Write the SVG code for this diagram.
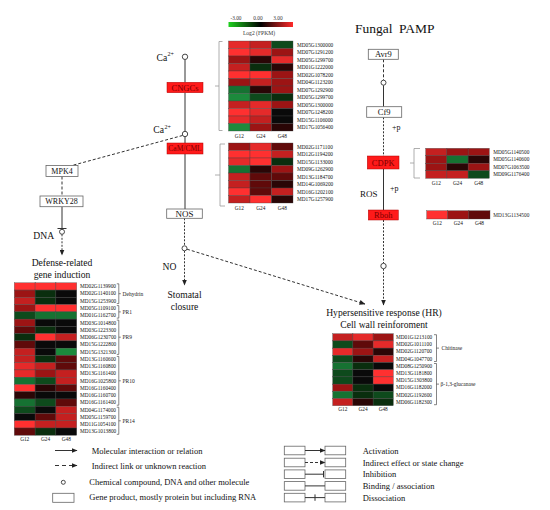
<svg xmlns="http://www.w3.org/2000/svg" width="550" height="510" viewBox="0 0 550 510">
<style>
text{font-family:"Liberation Serif","Times New Roman",serif;fill:#111}
.gl{font-size:5.3px;fill:#222}
.cl{font-size:5.3px;fill:#333;text-anchor:middle}
.grp{font-size:5.5px;fill:#222}
.lbl{font-size:9.6px}
.bt{font-size:8.5px;text-anchor:middle}
.rt{font-size:8px;text-anchor:middle;fill:#7a0000}
.lg{font-size:8.5px}
.c{stroke:#444;stroke-width:0.35}
.r5{fill:#ff3030}.r4{fill:#e52a2a}.r3{fill:#c42020}.r2{fill:#9c1414}.r1{fill:#600a0a}
.k{fill:#2a0606}.k0{fill:#0a0a0a}
.g1{fill:#0a2e0e}.g2{fill:#0e4a1c}.g3{fill:#167232}.g4{fill:#1c8a3c}
.wb{fill:#fff;stroke:#666;stroke-width:0.8}
.rb{fill:#ff1a1a;stroke:#b00000;stroke-width:0.5}
.ln{fill:none;stroke:#333;stroke-width:1}
.dl{fill:none;stroke:#333;stroke-width:1;stroke-dasharray:2,1.5}
.dd{fill:none;stroke:#333;stroke-width:1;stroke-dasharray:3,2}
.ci{fill:#fff;stroke:#333;stroke-width:0.9}
.br{fill:none;stroke:#999;stroke-width:0.8}
.bk{fill:none;stroke:#333;stroke-width:0.6}
</style>
<defs>
<marker id="arr" markerUnits="userSpaceOnUse" markerWidth="6" markerHeight="5" refX="5.5" refY="2.5" orient="auto">
<path d="M0,0 L6,2.5 L0,5 z" fill="#222"/>
</marker>
<linearGradient id="scale" x1="0" y1="0" x2="1" y2="0">
<stop offset="0" stop-color="#1fd11f"/>
<stop offset="0.5" stop-color="#000"/>
<stop offset="1" stop-color="#ff2a2a"/>
</linearGradient>
</defs>
<rect width="550" height="510" fill="#fff"/>

<!-- colour scale -->
<g id="colour-scale">
<text x="236" y="20" class="cl">-3.00</text>
<text x="258" y="20" class="cl">0.00</text>
<text x="278" y="20" class="cl">3.00</text>
<rect x="228.5" y="22" width="64.5" height="5" fill="url(#scale)"/>
<text x="259" y="34.5" class="cl" style="font-size:5.6px">Log2 (FPKM)</text>
</g>

<text x="355" y="32.8" style="font-size:13.5px;word-spacing:3px">Fungal PAMP</text>

<!-- connectors -->
<g id="connectors">
<line class="ln" x1="185" y1="59.5" x2="185" y2="82.3"/>
<line class="ln" x1="185" y1="92.7" x2="185" y2="131.3"/>
<line class="ln" x1="185" y1="136.7" x2="185" y2="143"/>
<line class="ln" x1="185" y1="154" x2="185" y2="209"/>
<line class="dd" x1="182.5" y1="135.5" x2="72" y2="165.5"/>
<line class="dd" x1="62" y1="176.5" x2="62" y2="196"/>
<line class="ln" x1="62" y1="206.7" x2="62" y2="228.5"/>
<line class="ln" x1="57.5" y1="228.5" x2="66.5" y2="228.5"/>
<line class="dl" x1="62" y1="234.3" x2="62" y2="255" marker-end="url(#arr)"/>
<line class="dl" x1="184.5" y1="218.3" x2="184.5" y2="245.8"/>
<line class="dl" x1="184.5" y1="250.8" x2="184.5" y2="285" marker-end="url(#arr)"/>
<line class="dd" x1="187" y1="249.2" x2="365" y2="304" marker-end="url(#arr)"/>
<line class="dd" x1="383.5" y1="59.3" x2="383.5" y2="80.2"/>
<line class="ln" x1="383.5" y1="85.2" x2="383.5" y2="106.7"/>
<line class="dl" x1="383.5" y1="117.3" x2="383.5" y2="156"/>
<line class="ln" x1="383.5" y1="169" x2="383.5" y2="210"/>
<line class="dl" x1="383.5" y1="220" x2="383.5" y2="263.3"/>
<line class="dl" x1="383.5" y1="268.7" x2="383.5" y2="305" marker-end="url(#arr)"/>
</g>

<!-- small molecules / labels -->
<g id="ca1">
<circle class="ci" cx="185" cy="56.8" r="2.7"/>
<text x="156.5" y="61" class="lbl">Ca</text><text x="167.5" y="56" style="font-size:6px">2+</text>
</g>
<g id="ca2">
<circle class="ci" cx="185" cy="134" r="2.7"/>
<text x="153.3" y="132.5" class="lbl">Ca</text><text x="164.5" y="128.5" style="font-size:6px">2+</text>
</g>
<g id="cngcs"><rect class="rb" x="167" y="82.3" width="36" height="10.4"/><text x="185" y="90.6" class="rt" style="font-size:8.5px">CNGCs</text></g>
<g id="cam-cml"><rect class="rb" x="167" y="143" width="36" height="11"/><text x="185" y="151.3" class="rt" style="font-size:7.5px">CaM/CML</text></g>
<g id="nos"><rect class="wb" x="166.7" y="209" width="35.6" height="9.3"/><text x="184.5" y="216.6" class="bt" style="font-size:9px">NOS</text></g>
<g id="no"><circle class="ci" cx="184.5" cy="248.3" r="2.5"/><text x="162.5" y="270" class="lbl">NO</text></g>
<g id="stomatal"><text x="184.5" y="298.3" class="lbl" text-anchor="middle">Stomatal</text><text x="184.5" y="310" class="lbl" text-anchor="middle">closure</text></g>
<g id="mpk4"><rect class="wb" x="46" y="165.5" width="32" height="11"/><text x="62" y="174" class="bt" style="font-size:8px">MPK4</text></g>
<g id="wrky28"><rect class="wb" x="40" y="196" width="43" height="10.7"/><text x="61.5" y="204.3" class="bt" style="font-size:8px">WRKY28</text></g>
<g id="dna"><circle class="ci" cx="62" cy="231.8" r="2.5"/><text x="33.3" y="239" class="lbl">DNA</text></g>
<g id="defense"><text x="62" y="265.8" class="lbl" text-anchor="middle">Defense-related</text><text x="62" y="278.3" class="lbl" text-anchor="middle">gene induction</text></g>
<g id="avr9"><rect class="wb" x="368.3" y="49.3" width="30" height="10"/><text x="383.3" y="57.2" class="bt">Avr9</text></g>
<g id="pamp-mol"><circle class="ci" cx="383.5" cy="82.7" r="2.5"/></g>
<g id="cf9"><rect class="wb" x="366.7" y="106.7" width="35" height="10.6"/><text x="384.2" y="114.9" class="bt">Cf9</text><text x="392" y="129.5" style="font-size:8px">+p</text></g>
<g id="cdpk"><rect class="rb" x="367.3" y="156" width="31.7" height="13"/><text x="383.2" y="165.5" class="rt" style="font-size:8.5px">CDPK</text></g>
<g id="ros"><text x="360" y="196.8" style="font-size:9px">ROS</text><text x="390" y="190.5" style="font-size:8px">+p</text></g>
<g id="rboh"><rect class="rb" x="368.3" y="210" width="30" height="10"/><text x="383.3" y="217.8" class="rt" style="font-size:8.5px">Rboh</text></g>
<g id="hr-mol"><circle class="ci" cx="383.5" cy="266" r="2.7"/></g>
<g id="hr"><text x="384" y="316" class="lbl" text-anchor="middle">Hypersensitive response (HR)</text><text x="384" y="327.5" class="lbl" text-anchor="middle">Cell wall reinforoment</text></g>

<!-- heatmap CNGCs -->
<g id="hm-cngc">
<path class="br" d="M222.5,41.5 H219 V130.5 H222.5 M219,86 H215"/>
<g transform="translate(228.5,41)">
<g class="c">
<rect class="r4" x="0" y="0" width="21.5" height="7.5"/><rect class="r3" x="21.5" y="0" width="21.5" height="7.5"/><rect class="g2" x="43" y="0" width="21.5" height="7.5"/>
<rect class="r5" x="0" y="7.5" width="21.5" height="7.5"/><rect class="r4" x="21.5" y="7.5" width="21.5" height="7.5"/><rect class="r2" x="43" y="7.5" width="21.5" height="7.5"/>
<rect class="r2" x="0" y="15" width="21.5" height="7.5"/><rect class="k" x="21.5" y="15" width="21.5" height="7.5"/><rect class="r4" x="43" y="15" width="21.5" height="7.5"/>
<rect class="r3" x="0" y="22.5" width="21.5" height="7.5"/><rect class="g1" x="21.5" y="22.5" width="21.5" height="7.5"/><rect class="k" x="43" y="22.5" width="21.5" height="7.5"/>
<rect class="r5" x="0" y="30" width="21.5" height="7.5"/><rect class="r5" x="21.5" y="30" width="21.5" height="7.5"/><rect class="r2" x="43" y="30" width="21.5" height="7.5"/>
<rect class="r2" x="0" y="37.5" width="21.5" height="7.5"/><rect class="r3" x="21.5" y="37.5" width="21.5" height="7.5"/><rect class="r2" x="43" y="37.5" width="21.5" height="7.5"/>
<rect class="g3" x="0" y="45" width="21.5" height="7.5"/><rect class="k" x="21.5" y="45" width="21.5" height="7.5"/><rect class="r2" x="43" y="45" width="21.5" height="7.5"/>
<rect class="g4" x="0" y="52.5" width="21.5" height="7.5"/><rect class="g2" x="21.5" y="52.5" width="21.5" height="7.5"/><rect class="g1" x="43" y="52.5" width="21.5" height="7.5"/>
<rect class="r3" x="0" y="60" width="21.5" height="7.5"/><rect class="r4" x="21.5" y="60" width="21.5" height="7.5"/><rect class="r2" x="43" y="60" width="21.5" height="7.5"/>
<rect class="r5" x="0" y="67.5" width="21.5" height="7.5"/><rect class="r4" x="21.5" y="67.5" width="21.5" height="7.5"/><rect class="k0" x="43" y="67.5" width="21.5" height="7.5"/>
<rect class="r4" x="0" y="75" width="21.5" height="7.5"/><rect class="r3" x="21.5" y="75" width="21.5" height="7.5"/><rect class="k0" x="43" y="75" width="21.5" height="7.5"/>
<rect class="g4" x="0" y="82.5" width="21.5" height="7.5"/><rect class="r2" x="21.5" y="82.5" width="21.5" height="7.5"/><rect class="k" x="43" y="82.5" width="21.5" height="7.5"/>
</g>
<g class="gl">
<text x="68.5" y="5.65">MD05G1300000</text><text x="68.5" y="13.15">MD07G1291200</text><text x="68.5" y="20.65">MD05G1299700</text><text x="68.5" y="28.15">MD01G1222000</text><text x="68.5" y="35.65">MD02G1078200</text><text x="68.5" y="43.15">MD04G1123200</text><text x="68.5" y="50.65">MD07G1292900</text><text x="68.5" y="58.15">MD05G1299700</text><text x="68.5" y="65.65">MD05G1300000</text><text x="68.5" y="73.15">MD07G1248200</text><text x="68.5" y="80.65">MD15G1106000</text><text x="68.5" y="88.15">MD17G1056400</text>
</g>
<g class="cl"><text x="10.75" y="97">G12</text><text x="32.25" y="97">G24</text><text x="53.75" y="97">G48</text></g>
</g>
</g>

<!-- heatmap CaM/CML -->
<g id="hm-cam">
<path class="br" d="M225,144 H220 V206 H225 M220,175 H215"/>
<g transform="translate(228.5,143)">
<g class="c">
<rect class="r2" x="0" y="0" width="21.5" height="7.5"/><rect class="r4" x="21.5" y="0" width="21.5" height="7.5"/><rect class="r1" x="43" y="0" width="21.5" height="7.5"/>
<rect class="r5" x="0" y="7.5" width="21.5" height="7.5"/><rect class="r5" x="21.5" y="7.5" width="21.5" height="7.5"/><rect class="r3" x="43" y="7.5" width="21.5" height="7.5"/>
<rect class="r4" x="0" y="15" width="21.5" height="7.5"/><rect class="r5" x="21.5" y="15" width="21.5" height="7.5"/><rect class="g1" x="43" y="15" width="21.5" height="7.5"/>
<rect class="g3" x="0" y="22.5" width="21.5" height="7.5"/><rect class="k" x="21.5" y="22.5" width="21.5" height="7.5"/><rect class="r2" x="43" y="22.5" width="21.5" height="7.5"/>
<rect class="r3" x="0" y="30" width="21.5" height="7.5"/><rect class="r1" x="21.5" y="30" width="21.5" height="7.5"/><rect class="r1" x="43" y="30" width="21.5" height="7.5"/>
<rect class="r3" x="0" y="37.5" width="21.5" height="7.5"/><rect class="r1" x="21.5" y="37.5" width="21.5" height="7.5"/><rect class="k" x="43" y="37.5" width="21.5" height="7.5"/>
<rect class="r5" x="0" y="45" width="21.5" height="7.5"/><rect class="r1" x="21.5" y="45" width="21.5" height="7.5"/><rect class="r3" x="43" y="45" width="21.5" height="7.5"/>
<rect class="r3" x="0" y="52.5" width="21.5" height="7.5"/><rect class="r5" x="21.5" y="52.5" width="21.5" height="7.5"/><rect class="k" x="43" y="52.5" width="21.5" height="7.5"/>
</g>
<g class="gl">
<text x="68.5" y="5.65">MD02G1171100</text><text x="68.5" y="13.15">MD12G1194200</text><text x="68.5" y="20.65">MD15G1133000</text><text x="68.5" y="28.15">MD09G1262900</text><text x="68.5" y="35.65">MD13G1184700</text><text x="68.5" y="43.15">MD14G1069200</text><text x="68.5" y="50.65">MD16G1202100</text><text x="68.5" y="58.15">MD17G1257900</text>
</g>
<g class="cl"><text x="10.75" y="66.5">G12</text><text x="32.25" y="66.5">G24</text><text x="53.75" y="66.5">G48</text></g>
</g>
</g>

<!-- heatmap CDPK -->
<g id="hm-cdpk">
<path class="br" d="M420,148.5 H414 V178 H420 M414,163 H410"/>
<g transform="translate(425.7,148.3)">
<g class="c">
<rect class="r3" x="0" y="0" width="21.2" height="7.5"/><rect class="r2" x="21.2" y="0" width="21.2" height="7.5"/><rect class="r2" x="42.4" y="0" width="21.2" height="7.5"/>
<rect class="r2" x="0" y="7.5" width="21.2" height="7.5"/><rect class="g3" x="21.2" y="7.5" width="21.2" height="7.5"/><rect class="k" x="42.4" y="7.5" width="21.2" height="7.5"/>
<rect class="r2" x="0" y="15" width="21.2" height="7.5"/><rect class="k" x="21.2" y="15" width="21.2" height="7.5"/><rect class="r2" x="42.4" y="15" width="21.2" height="7.5"/>
<rect class="r3" x="0" y="22.5" width="21.2" height="7.5"/><rect class="r3" x="21.2" y="22.5" width="21.2" height="7.5"/><rect class="g2" x="42.4" y="22.5" width="21.2" height="7.5"/>
</g>
<g class="gl">
<text x="67.6" y="5.65">MD05G1140500</text><text x="67.6" y="13.15">MD05G1140600</text><text x="67.6" y="20.65">MD07G1063500</text><text x="67.6" y="28.15">MD09G1176400</text>
</g>
<g class="cl"><text x="10.6" y="36.7">G12</text><text x="31.8" y="36.7">G24</text><text x="53" y="36.7">G48</text></g>
</g>
</g>

<!-- heatmap Rboh -->
<g id="hm-rboh" transform="translate(426.7,210.7)">
<g class="c">
<rect class="r5" x="0" y="0" width="21.1" height="8.3"/><rect class="r2" x="21.1" y="0" width="21.1" height="8.3"/><rect class="r1" x="42.2" y="0" width="21.1" height="8.3"/>
</g>
<text class="gl" x="66.6" y="6">MD13G1134500</text>
<g class="cl"><text x="10.55" y="14.4">G12</text><text x="31.65" y="14.4">G24</text><text x="52.75" y="14.4">G48</text></g>
</g>

<!-- heatmap HR -->
<g id="hm-hr">
<path class="bk" d="M434,334.7 H436.5 V361.5 H434 M436.5,348.1 H439"/>
<path class="bk" d="M434,363.5 H436.5 V404.7 H434 M436.5,384.1 H439"/>
<text class="grp" x="441.5" y="350">Chitinase</text>
<text class="grp" x="440.5" y="386">β-1,3-glucanase</text>
<g transform="translate(332.7,333.7)">
<g class="c">
<rect class="r3" x="0" y="0" width="20.2" height="7.2"/><rect class="r4" x="20.2" y="0" width="20.2" height="7.2"/><rect class="r2" x="40.4" y="0" width="20.2" height="7.2"/>
<rect class="g2" x="0" y="7.2" width="20.2" height="7.2"/><rect class="r1" x="20.2" y="7.2" width="20.2" height="7.2"/><rect class="r4" x="40.4" y="7.2" width="20.2" height="7.2"/>
<rect class="r4" x="0" y="14.4" width="20.2" height="7.2"/><rect class="r2" x="20.2" y="14.4" width="20.2" height="7.2"/><rect class="k" x="40.4" y="14.4" width="20.2" height="7.2"/>
<rect class="g2" x="0" y="21.6" width="20.2" height="7.2"/><rect class="k" x="20.2" y="21.6" width="20.2" height="7.2"/><rect class="r3" x="40.4" y="21.6" width="20.2" height="7.2"/>
<rect class="g3" x="0" y="28.8" width="20.2" height="7.2"/><rect class="g1" x="20.2" y="28.8" width="20.2" height="7.2"/><rect class="k0" x="40.4" y="28.8" width="20.2" height="7.2"/>
<rect class="g2" x="0" y="36" width="20.2" height="7.2"/><rect class="k0" x="20.2" y="36" width="20.2" height="7.2"/><rect class="r5" x="40.4" y="36" width="20.2" height="7.2"/>
<rect class="g2" x="0" y="43.2" width="20.2" height="7.2"/><rect class="k0" x="20.2" y="43.2" width="20.2" height="7.2"/><rect class="r5" x="40.4" y="43.2" width="20.2" height="7.2"/>
<rect class="r2" x="0" y="50.4" width="20.2" height="7.2"/><rect class="g1" x="20.2" y="50.4" width="20.2" height="7.2"/><rect class="k0" x="40.4" y="50.4" width="20.2" height="7.2"/>
<rect class="g3" x="0" y="57.6" width="20.2" height="7.2"/><rect class="g1" x="20.2" y="57.6" width="20.2" height="7.2"/><rect class="g2" x="40.4" y="57.6" width="20.2" height="7.2"/>
<rect class="r3" x="0" y="64.8" width="20.2" height="7.2"/><rect class="k" x="20.2" y="64.8" width="20.2" height="7.2"/><rect class="g1" x="40.4" y="64.8" width="20.2" height="7.2"/>
</g>
<g class="gl">
<text x="63.3" y="5.4">MD01G1213100</text><text x="63.3" y="12.6">MD02G1011100</text><text x="63.3" y="19.8">MD02G1120700</text><text x="63.3" y="27">MD04G1047700</text><text x="63.3" y="34.2">MD08G1250900</text><text x="63.3" y="41.4">MD13G1181800</text><text x="63.3" y="48.6">MD15G1303800</text><text x="63.3" y="55.8">MD16G1182000</text><text x="63.3" y="63">MD02G1192600</text><text x="63.3" y="70.2">MD06G1182300</text>
</g>
<g class="cl"><text x="10.1" y="77.8">G12</text><text x="30.3" y="77.8">G24</text><text x="50.5" y="77.8">G48</text></g>
</g>
</g>

<!-- heatmap defense genes -->
<g id="hm-defense">
<path class="bk" d="M116.8,283.8 H118.8 V303.6 H116.8 M118.8,293.7 H120.8"/>
<path class="bk" d="M116.8,305.6 H118.8 V318.1 H116.8 M118.8,311.9 H120.8"/>
<path class="bk" d="M116.8,320.1 H118.8 V354.4 H116.8 M118.8,337.2 H120.8"/>
<path class="bk" d="M116.8,356.4 H118.8 V405.2 H116.8 M118.8,380.8 H120.8"/>
<path class="bk" d="M116.8,407.2 H118.8 V434.3 H116.8 M118.8,420.8 H120.8"/>
<text class="grp" x="122.5" y="295.6">Dehydrin</text>
<text class="grp" x="122.5" y="313.8">PR1</text>
<text class="grp" x="122.5" y="339.1">PR9</text>
<text class="grp" x="122.5" y="382.7">PR10</text>
<text class="grp" x="122.5" y="422.7">PR14</text>
<g transform="translate(14.3,282.8)">
<g class="c">
<rect class="r5" x="0" y="0" width="20.8" height="7.26"/><rect class="r5" x="20.8" y="0" width="20.8" height="7.26"/><rect class="r5" x="41.6" y="0" width="20.8" height="7.26"/>
<rect class="r2" x="0" y="7.26" width="20.8" height="7.26"/><rect class="g1" x="20.8" y="7.26" width="20.8" height="7.26"/><rect class="k0" x="41.6" y="7.26" width="20.8" height="7.26"/>
<rect class="r3" x="0" y="14.52" width="20.8" height="7.26"/><rect class="g1" x="20.8" y="14.52" width="20.8" height="7.26"/><rect class="k0" x="41.6" y="14.52" width="20.8" height="7.26"/>
<rect class="r2" x="0" y="21.78" width="20.8" height="7.26"/><rect class="r5" x="20.8" y="21.78" width="20.8" height="7.26"/><rect class="r5" x="41.6" y="21.78" width="20.8" height="7.26"/>
<rect class="g2" x="0" y="29.04" width="20.8" height="7.26"/><rect class="g3" x="20.8" y="29.04" width="20.8" height="7.26"/><rect class="g3" x="41.6" y="29.04" width="20.8" height="7.26"/>
<rect class="r2" x="0" y="36.3" width="20.8" height="7.26"/><rect class="k0" x="20.8" y="36.3" width="20.8" height="7.26"/><rect class="k0" x="41.6" y="36.3" width="20.8" height="7.26"/>
<rect class="r1" x="0" y="43.56" width="20.8" height="7.26"/><rect class="g1" x="20.8" y="43.56" width="20.8" height="7.26"/><rect class="k0" x="41.6" y="43.56" width="20.8" height="7.26"/>
<rect class="g1" x="0" y="50.82" width="20.8" height="7.26"/><rect class="r5" x="20.8" y="50.82" width="20.8" height="7.26"/><rect class="r3" x="41.6" y="50.82" width="20.8" height="7.26"/>
<rect class="r1" x="0" y="58.08" width="20.8" height="7.26"/><rect class="k0" x="20.8" y="58.08" width="20.8" height="7.26"/><rect class="k0" x="41.6" y="58.08" width="20.8" height="7.26"/>
<rect class="r3" x="0" y="65.34" width="20.8" height="7.26"/><rect class="k0" x="20.8" y="65.34" width="20.8" height="7.26"/><rect class="g4" x="41.6" y="65.34" width="20.8" height="7.26"/>
<rect class="r3" x="0" y="72.6" width="20.8" height="7.26"/><rect class="g1" x="20.8" y="72.6" width="20.8" height="7.26"/><rect class="r1" x="41.6" y="72.6" width="20.8" height="7.26"/>
<rect class="r4" x="0" y="79.86" width="20.8" height="7.26"/><rect class="r3" x="20.8" y="79.86" width="20.8" height="7.26"/><rect class="r1" x="41.6" y="79.86" width="20.8" height="7.26"/>
<rect class="r4" x="0" y="87.12" width="20.8" height="7.26"/><rect class="r2" x="20.8" y="87.12" width="20.8" height="7.26"/><rect class="r3" x="41.6" y="87.12" width="20.8" height="7.26"/>
<rect class="g3" x="0" y="94.38" width="20.8" height="7.26"/><rect class="g2" x="20.8" y="94.38" width="20.8" height="7.26"/><rect class="r3" x="41.6" y="94.38" width="20.8" height="7.26"/>
<rect class="r5" x="0" y="101.64" width="20.8" height="7.26"/><rect class="k" x="20.8" y="101.64" width="20.8" height="7.26"/><rect class="r1" x="41.6" y="101.64" width="20.8" height="7.26"/>
<rect class="k" x="0" y="108.9" width="20.8" height="7.26"/><rect class="k0" x="20.8" y="108.9" width="20.8" height="7.26"/><rect class="k0" x="41.6" y="108.9" width="20.8" height="7.26"/>
<rect class="g3" x="0" y="116.16" width="20.8" height="7.26"/><rect class="g2" x="20.8" y="116.16" width="20.8" height="7.26"/><rect class="r1" x="41.6" y="116.16" width="20.8" height="7.26"/>
<rect class="g2" x="0" y="123.42" width="20.8" height="7.26"/><rect class="k0" x="20.8" y="123.42" width="20.8" height="7.26"/><rect class="r3" x="41.6" y="123.42" width="20.8" height="7.26"/>
<rect class="k0" x="0" y="130.68" width="20.8" height="7.26"/><rect class="r1" x="20.8" y="130.68" width="20.8" height="7.26"/><rect class="r3" x="41.6" y="130.68" width="20.8" height="7.26"/>
<rect class="r5" x="0" y="137.94" width="20.8" height="7.26"/><rect class="r3" x="20.8" y="137.94" width="20.8" height="7.26"/><rect class="r3" x="41.6" y="137.94" width="20.8" height="7.26"/>
<rect class="r1" x="0" y="145.2" width="20.8" height="7.26"/><rect class="g1" x="20.8" y="145.2" width="20.8" height="7.26"/><rect class="k0" x="41.6" y="145.2" width="20.8" height="7.26"/>
</g>
<g class="gl">
<text x="65.7" y="5.43">MD02G1139900</text><text x="65.7" y="12.69">MD02G1140100</text><text x="65.7" y="19.95">MD15G1253900</text><text x="65.7" y="27.21">MD05G1109100</text><text x="65.7" y="34.47">MD01G1162700</text><text x="65.7" y="41.73">MD03G1014800</text><text x="65.7" y="48.99">MD03G1223300</text><text x="65.7" y="56.25">MD06G1230700</text><text x="65.7" y="63.51">MD15G1222800</text><text x="65.7" y="70.77">MD15G1321300</text><text x="65.7" y="78.03">MD13G1160600</text><text x="65.7" y="85.29">MD13G1160800</text><text x="65.7" y="92.55">MD13G1161400</text><text x="65.7" y="99.81">MD16G1025800</text><text x="65.7" y="107.07">MD16G1160400</text><text x="65.7" y="114.33">MD16G1160700</text><text x="65.7" y="121.59">MD16G1161400</text><text x="65.7" y="128.85">MD04G1174000</text><text x="65.7" y="136.11">MD05G1159700</text><text x="65.7" y="143.37">MD11G1054100</text><text x="65.7" y="150.63">MD13G1013800</text>
</g>
<g class="cl"><text x="10.4" y="158.3">G12</text><text x="31.2" y="158.3">G24</text><text x="52" y="158.3">G48</text></g>
</g>
</g>

<!-- legend -->
<g id="legend-left">
<line class="ln" x1="55" y1="450.5" x2="77" y2="450.5" marker-end="url(#arr)"/>
<text class="lg" x="91.7" y="453.5">Molecular interaction or relation</text>
<line class="ln" x1="55" y1="465.5" x2="77" y2="465.5" stroke-dasharray="4,3" marker-end="url(#arr)"/>
<text class="lg" x="91.7" y="468.5">Indirect link or unknown reaction</text>
<circle class="ci" cx="63.3" cy="482.3" r="2" stroke-width="0.7"/>
<text class="lg" x="89.3" y="485.2">Chemical compound, DNA and other molecule</text>
<rect class="wb" x="52.7" y="493.3" width="21.3" height="9" stroke-width="0.7"/>
<text class="lg" x="89.3" y="500.2">Gene product, mostly protein but including RNA</text>
</g>
<g id="legend-right">
<rect class="wb" x="284.3" y="446.2" width="20.7" height="8.6" stroke-width="0.7"/><rect class="wb" x="325" y="446.2" width="20.7" height="8.6" stroke-width="0.7"/>
<line class="ln" x1="305" y1="450.5" x2="325" y2="450.5" marker-end="url(#arr)"/>
<text class="lg" x="362.7" y="453.5">Activation</text>
<rect class="wb" x="284.3" y="458.2" width="20.7" height="8.6" stroke-width="0.7"/><rect class="wb" x="325" y="458.2" width="20.7" height="8.6" stroke-width="0.7"/>
<line class="ln" x1="305" y1="462.5" x2="325" y2="462.5" stroke-dasharray="3,2" marker-end="url(#arr)"/>
<text class="lg" x="362.7" y="465.5">Indirect effect or state change</text>
<rect class="wb" x="284.3" y="469.9" width="20.7" height="8.6" stroke-width="0.7"/><rect class="wb" x="325" y="469.9" width="20.7" height="8.6" stroke-width="0.7"/>
<line class="ln" x1="305" y1="474.2" x2="323.5" y2="474.2"/><line class="ln" x1="323.5" y1="471" x2="323.5" y2="477.4"/>
<text class="lg" x="362.7" y="477.2">Inhibition</text>
<rect class="wb" x="284.3" y="481.6" width="20.7" height="8.6" stroke-width="0.7"/><rect class="wb" x="325" y="481.6" width="20.7" height="8.6" stroke-width="0.7"/>
<line class="ln" x1="305" y1="485.9" x2="325" y2="485.9"/>
<text class="lg" x="362.7" y="488.9">Binding / association</text>
<rect class="wb" x="284.3" y="493.3" width="20.7" height="8.6" stroke-width="0.7"/><rect class="wb" x="325" y="493.3" width="20.7" height="8.6" stroke-width="0.7"/>
<line class="ln" x1="305" y1="497.6" x2="325" y2="497.6"/><line class="ln" x1="315" y1="494.4" x2="315" y2="500.8"/>
<text class="lg" x="362.7" y="500.6">Dissociation</text>
</g>
</svg>
